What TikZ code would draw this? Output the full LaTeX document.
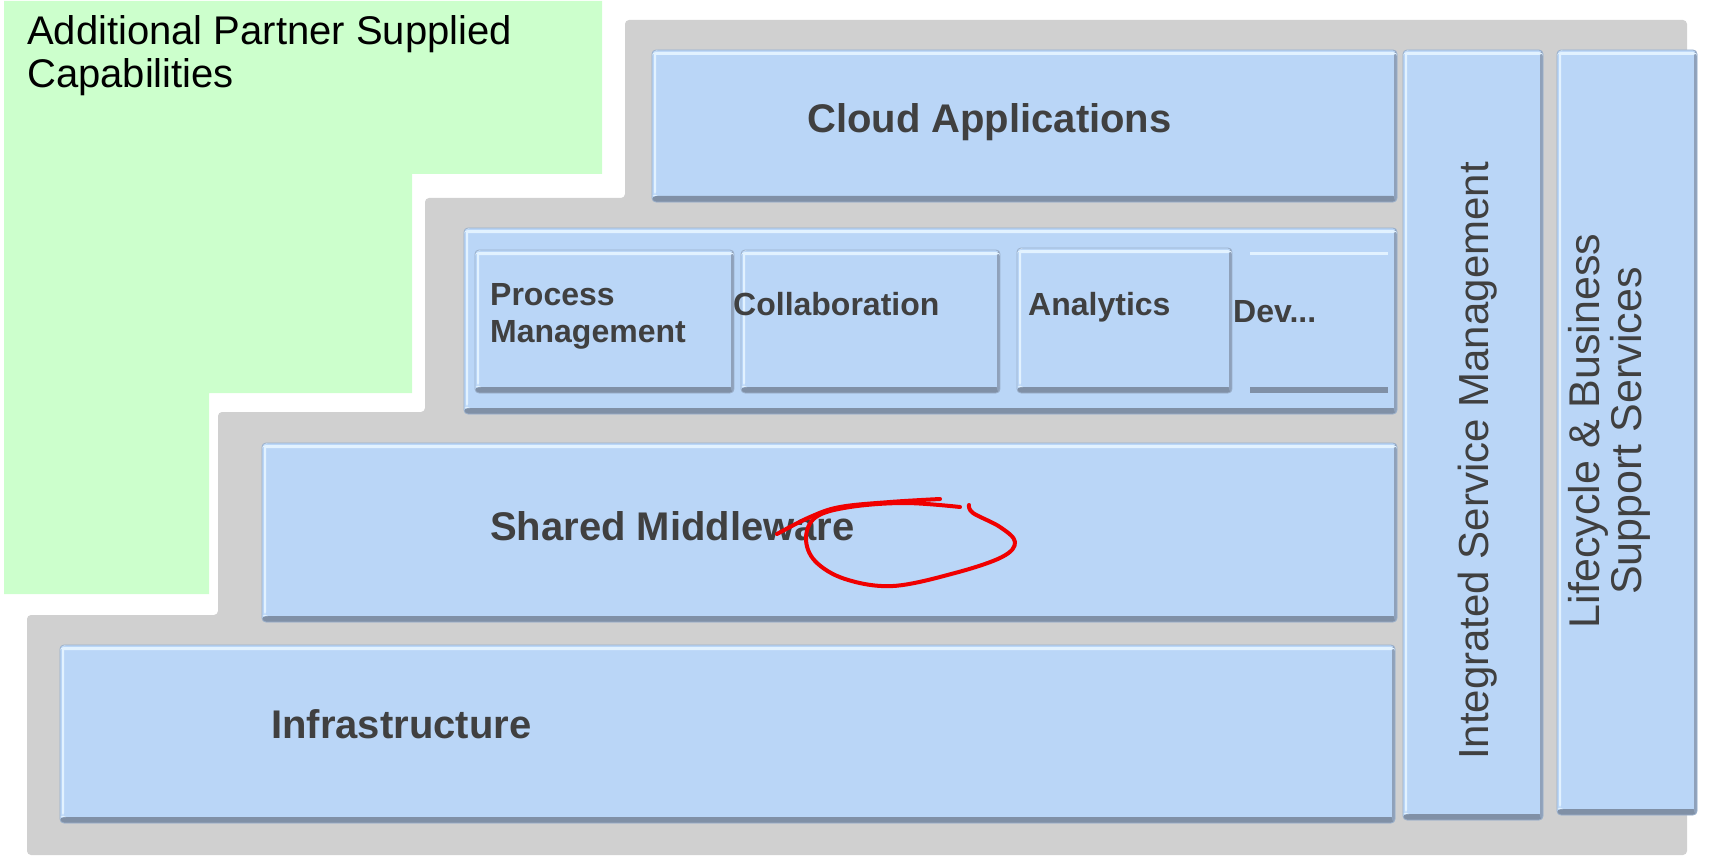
\documentclass[tikz,border=0pt]{standalone}
\usepackage{fontspec}
\setmainfont{Liberation Sans}
\definecolor{bluefill}{RGB}{186,214,247}
\definecolor{edgedark}{RGB}{128,144,166}
\definecolor{hilite}{RGB}{226,242,255}
\definecolor{greybg}{RGB}{208,208,208}
\definecolor{greenbg}{RGB}{204,255,204}
\definecolor{txtgrey}{RGB}{64,64,64}
\definecolor{markred}{RGB}{240,0,0}
\tikzset{
  bluebox/.style={fill=bluefill, draw=edgedark!55!bluefill, line width=0.8pt,
    rounded corners=4pt, inner sep=0pt,
    path picture={
      \fill[edgedark] ([yshift=6pt]path picture bounding box.south west) rectangle (path picture bounding box.south east);
      \fill[edgedark!75!bluefill] ([xshift=-3pt]path picture bounding box.north east) rectangle (path picture bounding box.south east);
      \fill[hilite] ([yshift=-2pt]path picture bounding box.north west) rectangle ([yshift=-5pt]path picture bounding box.north east);
      \fill[hilite] ([xshift=2pt]path picture bounding box.north west) rectangle ([xshift=4pt,yshift=6pt]path picture bounding box.south west);
    }},
  devbox/.style={fill=bluefill, draw=none, inner sep=0pt,
    path picture={
      \fill[edgedark] ([yshift=6pt]path picture bounding box.south west) rectangle (path picture bounding box.south east);
      \fill[hilite] ([yshift=-2pt]path picture bounding box.north west) rectangle ([yshift=-5pt]path picture bounding box.north east);
    }},
  bigtxt/.style={font=\fontsize{40}{44}\selectfont\bfseries, text=txtgrey, inner sep=0pt},
  smalltxt/.style={font=\fontsize{32}{37}\selectfont\bfseries, text=txtgrey, inner sep=0pt, align=left},
  vtxt/.style={font=\fontsize{42}{42}\selectfont, text=txtgrey, inner sep=0pt, rotate=90, align=center},
  scribble/.style={draw=markred, line width=4pt, line cap=round, line join=round},
}
\begin{document}
\begin{tikzpicture}[x=1pt,y=-1pt]
\useasboundingbox (0,0) rectangle (1709,864);
% green partner area
\fill[greenbg] (4,1) -- (602,1) -- (602,174) -- (412,174) -- (412,393) -- (209,393) -- (209,594) -- (4,594) -- cycle;
\node[anchor=base west, inner sep=0pt, font=\fontsize{40}{43}\selectfont, align=left] (partner) at (27,88) {Additional Partner Supplied\\Capabilities};
% grey staircase
\fill[greybg, rounded corners=4pt] (625,20) -- (1687,20) -- (1687,855) -- (27,855) -- (27,615) -- (218,615) -- (218,412) -- (425,412) -- (425,198) -- (625,198) -- cycle;
% boxes
\node[bluebox, minimum width=745, minimum height=152] (cloud) at (1024.5,126) {};
\node[bluebox, minimum width=933, minimum height=186] (mid) at (930.5,321) {};
\node[bluebox, minimum width=259, minimum height=143] (proc) at (604.5,321.5) {};
\node[bluebox, minimum width=259, minimum height=143] (collab) at (870.5,321.5) {};
\node[bluebox, minimum width=215, minimum height=145] (analytics) at (1124.5,320.5) {};
\node[devbox, minimum width=138, minimum height=143] (dev) at (1319,321.5) {};
\node[bluebox, minimum width=1135, minimum height=179] (shared) at (829.5,532.5) {};
\node[bluebox, minimum width=1335, minimum height=178] (infra) at (727.5,734) {};
\node[bluebox, minimum width=140, minimum height=770] (ism) at (1473,435) {};
\node[bluebox, minimum width=140, minimum height=765] (lbss) at (1627,432.5) {};
% labels
\node[bigtxt, anchor=base west] (cloudt) at (807,133) {Cloud Applications};
\node[bigtxt, anchor=base west] (sharedt) at (490,540) {Shared Middleware};
\node[bigtxt, anchor=base west] (infrat) at (271,738) {Infrastructure};
\node[smalltxt, anchor=base west] (proct) at (490,342) {Process\\Management};
\node[smalltxt, anchor=base west] (collabt) at (733,315) {Collaboration};
\node[smalltxt, anchor=base west] (analyticst) at (1028,315) {Analytics};
\node[smalltxt, anchor=base west] (devt) at (1233,322) {Dev...};
\node[vtxt, anchor=base] (ismt) at (1488,461) {Integrated Service Management};
\node[vtxt, font=\fontsize{43}{42}\selectfont] (lbsst) at (1609,431) {Lifecycle \& Business\\Support Services};
% red hand-drawn mark
\draw[scribble] plot[smooth, tension=0.6] coordinates {(777,534) (810,517) (840,507) (890,502) (940,499)};
\draw[scribble] plot[smooth, tension=0.6] coordinates {(969,505) (973,513) (1000,527) (1015,542) (1002,557) (955,573) (893,586) (845,579) (815,561) (806,538) (816,517) (850,507) (905,503) (960,507)};
\end{tikzpicture}
\end{document}
